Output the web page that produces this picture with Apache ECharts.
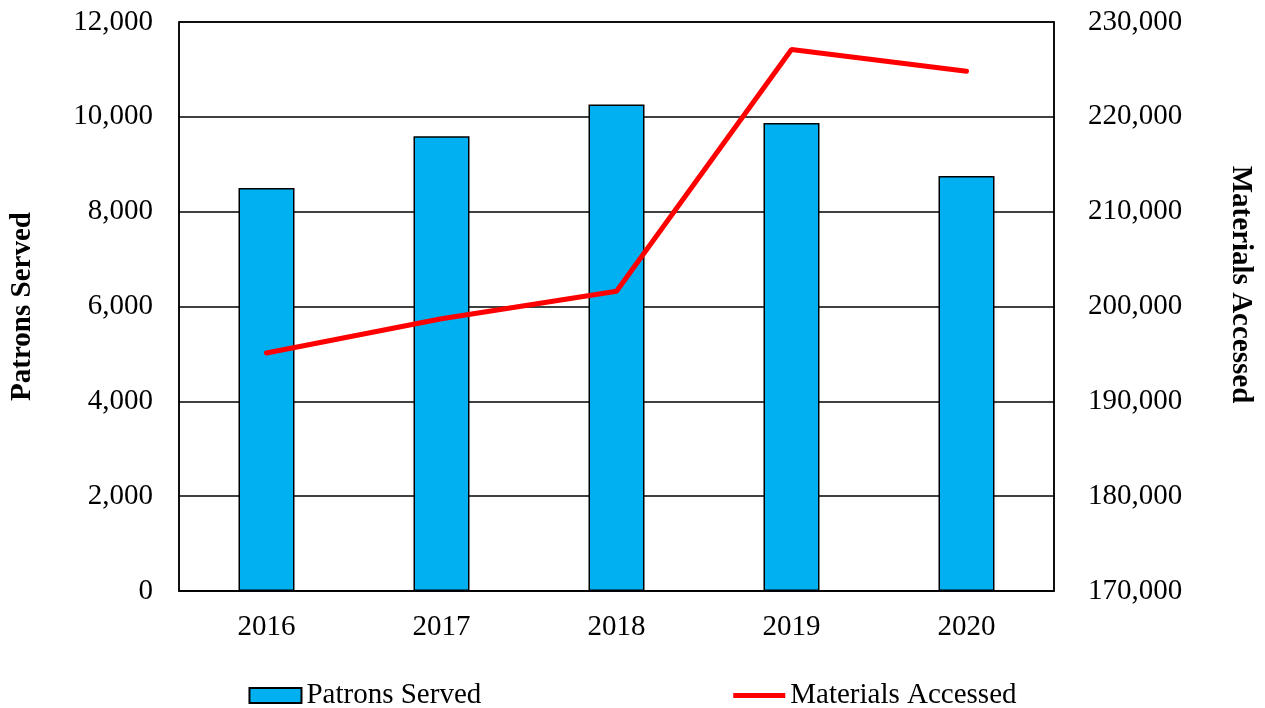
<!DOCTYPE html>
<html>
<head>
<meta charset="utf-8">
<script src="https://cdn.jsdelivr.net/npm/echarts@6/dist/echarts.min.js"></script>
<style>
    html, body { margin: 0; padding: 0; background: #fff; }
    #chart { width: 1265px; height: 708px; }
</style>
</head>
<body>
<div id="chart"></div>
<script>
const years = ["2016", "2017", "2018", "2019", "2020"];
const patronsServed = [8500, 9590, 10260, 9870, 8750];
const materialsAccessed = [195100, 198700, 201600, 227100, 224800];

const font = "'Liberation Serif', 'Times New Roman', serif";
const fmt = v => v.toLocaleString("en-US");

const chart = echarts.init(document.getElementById("chart"));
chart.setOption({
    animation: false,
    textStyle: { fontFamily: font, color: "#000" },
    grid: {
        left: 178,
        right: 211,
        top: 22,
        bottom: 117,
        show: true,
        borderColor: "#000",
        borderWidth: 1.5
    },
    legend: {
        bottom: -7,
        left: "center",
        itemWidth: 52,
        itemHeight: 15,
        itemGap: 252,
        textStyle: { fontFamily: font, fontSize: 29, color: "#000" },
        data: [
            { name: "Patrons Served", icon: "rect" },
            {
                name: "Materials Accessed",
                icon: "path://M0,0 L54,0 L54,5 L0,5 Z",
                itemStyle: { color: "#FF0000", borderWidth: 0 }
            }
        ]
    },
    xAxis: {
        type: "category",
        data: years,
        axisLine: { lineStyle: { color: "#000", width: 1.5 } },
        axisTick: { show: false },
        axisLabel: { fontFamily: font, fontSize: 29, color: "#000", margin: 22 }
    },
    yAxis: [
        {
            type: "value",
            min: 0,
            max: 12000,
            interval: 2000,
            name: "Patrons Served",
            nameLocation: "middle",
            nameRotate: 90,
            nameGap: 142,
            nameTextStyle: { fontFamily: font, fontSize: 29, fontWeight: "bold", color: "#000" },
            axisLine: { show: true, lineStyle: { color: "#000", width: 1.5 } },
            axisTick: { show: false },
            splitLine: { lineStyle: { color: "#000", width: 1.5 } },
            axisLabel: { fontFamily: font, fontSize: 29, color: "#000", margin: 26, formatter: fmt }
        },
        {
            type: "value",
            min: 170000,
            max: 230000,
            interval: 10000,
            name: "Materials Accessed",
            nameLocation: "middle",
            nameRotate: -90,
            nameGap: 172,
            nameTextStyle: { fontFamily: font, fontSize: 29, fontWeight: "bold", color: "#000", padding: [0, 44, 0, 0] },
            axisLine: { show: true, lineStyle: { color: "#000", width: 1.5 } },
            axisTick: { show: false },
            splitLine: { show: false },
            axisLabel: { fontFamily: font, fontSize: 29, color: "#000", margin: 34, formatter: fmt }
        }
    ],
    series: [
        {
            name: "Patrons Served",
            type: "bar",
            data: patronsServed,
            barWidth: 56,
            itemStyle: { color: "#00B0F0", borderColor: "#000", borderWidth: 1.5 }
        },
        {
            name: "Materials Accessed",
            type: "line",
            yAxisIndex: 1,
            data: materialsAccessed,
            symbol: "none",
            lineStyle: { color: "#FF0000", width: 5, cap: "round" },
            itemStyle: { color: "#FF0000" }
        }
    ]
});
</script>
</body>
</html>
